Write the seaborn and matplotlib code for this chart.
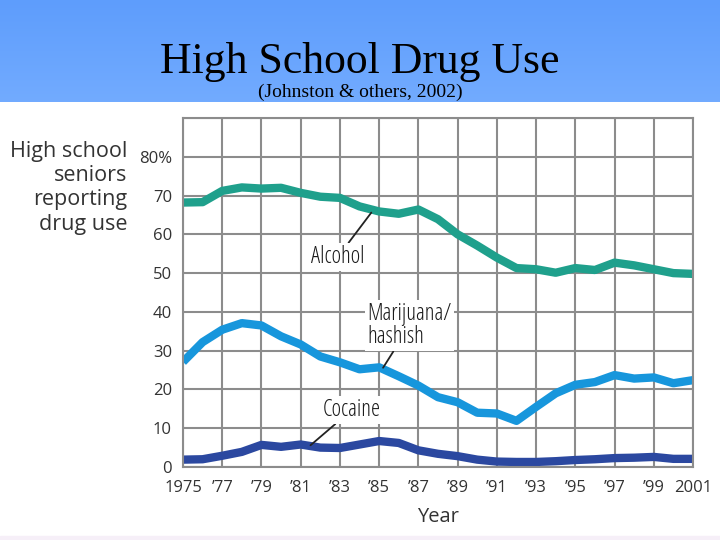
import matplotlib.pyplot as plt
import pandas as pd
import seaborn as sns
import numpy as np
from matplotlib.patches import Rectangle

# Values (percent of seniors, 30-day use)
years = list(range(1975, 2002))
alcohol = [68.2, 68.3, 71.2, 72.1, 71.8, 72.0, 70.7, 69.7, 69.4, 67.2, 65.9, 65.3, 66.4,
           63.9, 60.0, 57.1, 54.0, 51.3, 51.0, 50.1, 51.3, 50.8, 52.7, 52.0, 51.0, 50.0, 49.8]
marijuana = [27.1, 32.2, 35.4, 37.1, 36.5, 33.7, 31.6, 28.5, 27.0, 25.2, 25.7, 23.4, 21.0,
             18.0, 16.7, 14.0, 13.8, 11.9, 15.5, 19.0, 21.2, 21.9, 23.7, 22.8, 23.1, 21.6, 22.4]
cocaine = [1.9, 2.0, 2.9, 3.9, 5.7, 5.2, 5.8, 5.0, 4.9, 5.8, 6.7, 6.2, 4.3,
           3.4, 2.8, 1.9, 1.4, 1.3, 1.3, 1.5, 1.8, 2.0, 2.3, 2.4, 2.6, 2.1, 2.1]

tick_years = list(range(1975, 2002, 2))
tick_labels = ['1975'] + ["\u2019%02d" % (y % 100) for y in tick_years[1:-1]] + ['2001']
y_ticks = [0, 10, 20, 30, 40, 50, 60, 70, 80]
y_labels = ['0', '10', '20', '30', '40', '50', '60', '70', '80%']

colors = {'Alcohol': '#1fa08c', 'Marijuana': '#1796dc', 'Cocaine': '#2b48a0'}

df = pd.DataFrame({
    'year': years * 3,
    'pct': alcohol + marijuana + cocaine,
    'drug': ['Alcohol'] * len(years) + ['Marijuana'] * len(years) + ['Cocaine'] * len(years),
})

sns.set_style('white')
plt.rcParams['font.family'] = ['Open Sans', 'DejaVu Sans']

fig = plt.figure(figsize=(7.2, 5.4), dpi=100)

# blue gradient header band
hdr = fig.add_axes([0, 1 - 102 / 540, 1, 102 / 540])
grad = np.linspace(0, 1, 100).reshape(-1, 1)
top = np.array([0x5e, 0x9d, 0xfc]) / 255
bot = np.array([0x72, 0xab, 0xff]) / 255
img = top + grad[..., None] * (bot - top)
hdr.imshow(img, aspect='auto', extent=[0, 1, 0, 1])
hdr.axis('off')
fig.patches.append(Rectangle((0, 0), 1, 4 / 540, transform=fig.transFigure,
                             color='#f6eff8', zorder=0))

fig.text(0.5, 1 - 73 / 540, 'High School Drug Use', ha='center', va='baseline',
         fontsize=31.5, family='Liberation Serif', color='black')
fig.text(0.5, 1 - 97 / 540, '(Johnston & others, 2002)', ha='center', va='baseline',
         fontsize=14, family='Liberation Serif', color='black')

ax = fig.add_axes([183 / 720, 1 - 467 / 540, 510 / 720, 349 / 540])
sns.lineplot(data=df, x='year', y='pct', hue='drug', palette=colors, linewidth=6,
             legend=False, ax=ax)
for line in ax.get_lines():
    line.set_solid_capstyle('butt')
    line.set_solid_joinstyle('round')

grid_c = '#8c8c8c'
ax.set_xlim(1975, 2001)
ax.set_ylim(0, 90)
ax.set_xticks(tick_years)
ax.set_xticklabels(tick_labels)
ax.set_yticks(y_ticks)
ax.set_yticklabels(y_labels)
ax.set_yticks([90], minor=True)
ax.grid(True, which='both', color=grid_c, linewidth=1.5, zorder=0)
ax.set_axisbelow(True)
for s in ax.spines.values():
    s.set_color(grid_c)
    s.set_linewidth(1.5)
ax.tick_params(axis='both', which='both', length=0, labelsize=12, colors='#333333')
ax.tick_params(axis='y', pad=8)
ax.tick_params(axis='x', pad=9)
ax.set_xlabel('Year', fontsize=14.5, color='#333333', labelpad=8)
ax.set_ylabel('')

fig.text(127 / 720, 1 - 141 / 540, 'High school\nseniors\nreporting\ndrug use',
         ha='right', va='top', fontsize=15.5, color='#333333', linespacing=1.2)

# callouts
box = dict(facecolor='white', edgecolor='none', pad=1.5)
arrow = dict(arrowstyle='-', color='#222222', linewidth=1.3, shrinkA=0, shrinkB=0)
lbl = dict(fontsize=16.5, stretch='condensed', weight='medium', color='#1a1a1a', bbox=box)
ax.annotate('Alcohol', xy=(1984.6, 65.6), xytext=(1982.9, 54.2), ha='center', va='center',
            arrowprops=arrow, **lbl)
ax.annotate('Marijuana/\nhashish', xy=(1985.2, 25.6), xytext=(1984.4, 36.4), ha='left',
            va='center', linespacing=0.95, arrowprops=arrow, **lbl)
ax.annotate('Cocaine', xy=(1981.5, 5.6), xytext=(1983.6, 14.7), ha='center', va='center',
            arrowprops=arrow, **lbl)

fig.savefig('out.png', dpi=100)
